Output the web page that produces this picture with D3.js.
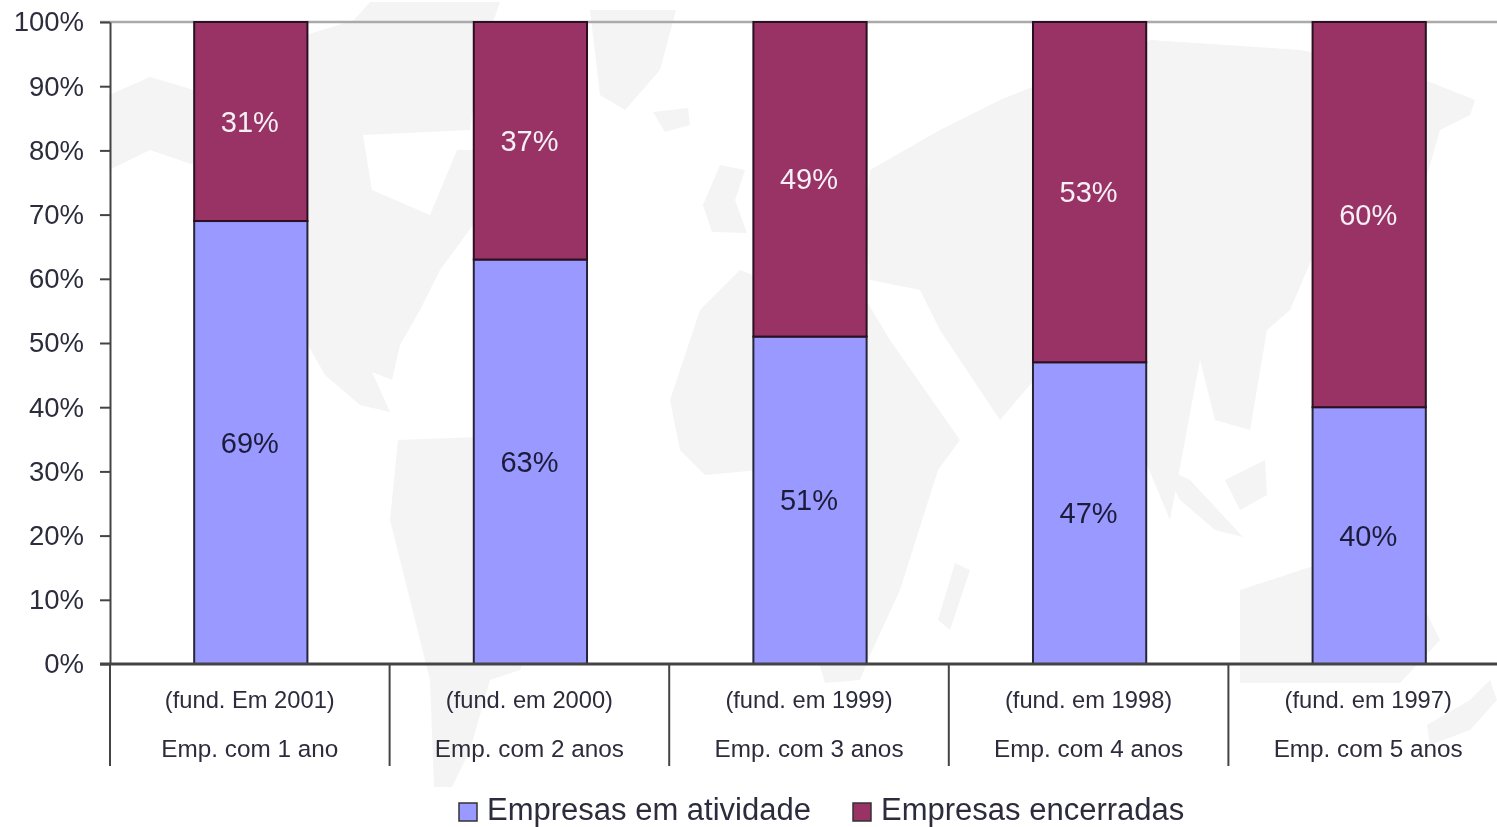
<!DOCTYPE html>
<html>
<head>
<meta charset="utf-8">
<script src="https://cdn.jsdelivr.net/npm/d3@7"></script>
<style>
  html, body { margin: 0; padding: 0; background: #fff; overflow: hidden; }
  svg { display: block; filter: blur(0.7px); font-family: "Liberation Sans", Arial, sans-serif; }
</style>
</head>
<body>
<div id="chart"></div>
<script>
const width = 1497;
const height = 827;
const margin = { top: 22, right: -11, bottom: 163, left: 110 };

const foundedLabels = ["(fund. Em 2001)", "(fund. em 2000)", "(fund. em 1999)", "(fund. em 1998)", "(fund. em 1997)"];
const ageLabels = ["Emp. com 1 ano", "Emp. com 2 anos", "Emp. com 3 anos", "Emp. com 4 anos", "Emp. com 5 anos"];
const ativas = [69, 63, 51, 47, 40];
const encerradas = [31, 37, 49, 53, 60];
const yTicks = [0, 10, 20, 30, 40, 50, 60, 70, 80, 90, 100];
const seriesNames = ["Empresas em atividade", "Empresas encerradas"];

// faint world map behind the chart, page pixels, only a rough outline
const backdrop = [
  [[109,95],[150,77],[194,90],[240,110],[290,40],[354,20],[370,2],[500,2],[480,60],[470,130],[363,135],[372,190],[430,215],[457,150],[475,150],[473,225],[440,270],[420,310],[400,345],[392,380],[372,372],[390,412],[360,405],[325,375],[309,347],[300,280],[250,190],[194,165],[150,150],[109,170]],
  [[590,10],[676,10],[660,70],[625,110],[600,95]],
  [[653,112],[688,108],[690,125],[665,132]],
  [[703,205],[720,165],[745,170],[735,200],[747,233],[712,232]],
  [[398,440],[480,437],[587,500],[530,640],[520,670],[490,680],[470,750],[452,787],[434,787],[430,680],[400,560],[390,520]],
  [[700,310],[740,270],[790,290],[866,300],[890,340],[960,440],[938,470],[900,590],[871,653],[860,680],[825,683],[800,600],[790,530],[760,470],[705,475],[680,450],[670,400]],
  [[955,563],[970,570],[950,630],[938,620]],
  [[870,170],[940,130],[1000,100],[1150,40],[1300,50],[1400,70],[1475,100],[1470,115],[1440,130],[1420,200],[1320,240],[1290,310],[1267,330],[1250,430],[1215,420],[1200,360],[1170,520],[1120,400],[1060,350],[1000,420],[940,330],[920,290],[870,280],[866,220]],
  [[1163,467],[1190,480],[1243,537],[1215,530],[1180,500]],
  [[1225,480],[1265,460],[1267,495],[1240,510]],
  [[1240,590],[1310,567],[1400,560],[1440,640],[1400,683],[1240,683]],
  [[1427,725],[1470,700],[1490,680],[1497,700],[1470,730],[1430,745]]
];

const svg = d3.select("#chart")
    .append("svg")
    .attr("width", width)
    .attr("height", height);

const x = d3.scaleBand()
    .domain(ageLabels)
    .range([margin.left, width - margin.right])
    .paddingInner(0.595)
    .paddingOuter(0.2975);

const y = d3.scaleLinear()
    .domain([0, 100])
    .range([height - margin.bottom, margin.top]);

const color = d3.scaleOrdinal().domain(seriesNames).range(["#9999ff", "#993366"]);
const edge = c => x(c) - x.step() * 0.2975;
const barX = c => x(c) + 1;
const midX = c => x(c) + x.bandwidth() / 2;

// map
svg.append("g")
    .selectAll("path")
    .data(backdrop)
    .enter()
    .append("path")
    .attr("d", d3.line().curve(d3.curveLinearClosed))
    .attr("fill", "#f4f4f4");

// top rule
svg.append("line")
    .attr("x1", 100).attr("x2", width)
    .attr("y1", y(100)).attr("y2", y(100))
    .attr("stroke", "#aaa")
    .attr("stroke-width", 2.5);

// stacked bars
const stack = ageLabels.map((c, i) => ({ cat: c, ativa: ativas[i], encerrada: encerradas[i] }));

const groups = svg.append("g")
    .selectAll("g")
    .data(stack)
    .enter()
    .append("g");

groups.append("rect")
    .attr("x", d => barX(d.cat))
    .attr("y", d => y(d.ativa))
    .attr("width", x.bandwidth())
    .attr("height", d => y(0) - y(d.ativa))
    .attr("fill", color(seriesNames[0]))
    .attr("stroke", "#26263a")
    .attr("stroke-width", 2);

groups.append("rect")
    .attr("x", d => barX(d.cat))
    .attr("y", y(100))
    .attr("width", x.bandwidth())
    .attr("height", d => y(d.ativa) - y(100))
    .attr("fill", color(seriesNames[1]))
    .attr("stroke", "#2a1020")
    .attr("stroke-width", 2);

groups.append("text")
    .attr("x", d => midX(d.cat))
    .attr("y", d => y(d.ativa / 2))
    .attr("dy", "0.35em")
    .attr("text-anchor", "middle")
    .attr("font-size", 29)
    .attr("fill", "#1c1c3a")
    .text(d => d.ativa + "%");

groups.append("text")
    .attr("x", d => midX(d.cat))
    .attr("y", d => y(d.ativa + d.encerrada / 2))
    .attr("dy", "0.35em")
    .attr("text-anchor", "middle")
    .attr("font-size", 29)
    .attr("fill", "#f4f0f4")
    .text(d => d.encerrada + "%");

// y axis
const yAxis = svg.append("g")
    .attr("transform", `translate(${margin.left}, 0)`)
    .call(d3.axisLeft(y).tickValues(yTicks).tickFormat(d => d + "%").tickSize(10).tickSizeOuter(0).tickPadding(16));

yAxis.select(".domain").attr("stroke", "#444").attr("stroke-width", 2);
yAxis.selectAll("line").attr("stroke", "#444").attr("stroke-width", 2);
yAxis.selectAll("text")
    .attr("font-size", 27.5)
    .attr("font-family", "Liberation Sans")
    .attr("fill", "#2c2c3c");

// baseline and category separators
svg.append("line")
    .attr("x1", 100).attr("x2", width)
    .attr("y1", y(0)).attr("y2", y(0))
    .attr("stroke", "#444")
    .attr("stroke-width", 3);

svg.append("g")
    .selectAll("line")
    .data(ageLabels)
    .enter()
    .append("line")
    .attr("x1", edge).attr("x2", edge)
    .attr("y1", y(0)).attr("y2", y(0) + 102)
    .attr("stroke", "#444")
    .attr("stroke-width", 2);

// two line category labels
const labelsG = svg.append("g")
    .attr("text-anchor", "middle")
    .attr("fill", "#2c2c3c");

labelsG.selectAll(".founded")
    .data(foundedLabels)
    .enter()
    .append("text")
    .attr("class", "founded")
    .attr("font-size", 23.7)
    .attr("x", (d, i) => midX(ageLabels[i]))
    .attr("y", y(0) + 36)
    .attr("dy", "0.35em")
    .text(d => d);

labelsG.selectAll(".age")
    .data(ageLabels)
    .enter()
    .append("text")
    .attr("class", "age")
    .attr("font-size", 24.3)
    .attr("x", d => midX(d))
    .attr("y", y(0) + 84)
    .attr("dy", "0.35em")
    .text(d => d);

// legend
const legend = svg.append("g")
    .selectAll("g")
    .data(seriesNames)
    .enter()
    .append("g")
    .attr("transform", (d, i) => `translate(${[459, 853][i]}, 803)`);

legend.append("rect")
    .attr("width", 18)
    .attr("height", 18)
    .attr("fill", d => color(d))
    .attr("stroke", "#333")
    .attr("stroke-width", 1.5);

legend.append("text")
    .attr("x", 28)
    .attr("y", 6)
    .attr("dy", "0.35em")
    .attr("font-size", 31)
    .attr("fill", "#2c2c3c")
    .text(d => d);
</script>
</body>
</html>
